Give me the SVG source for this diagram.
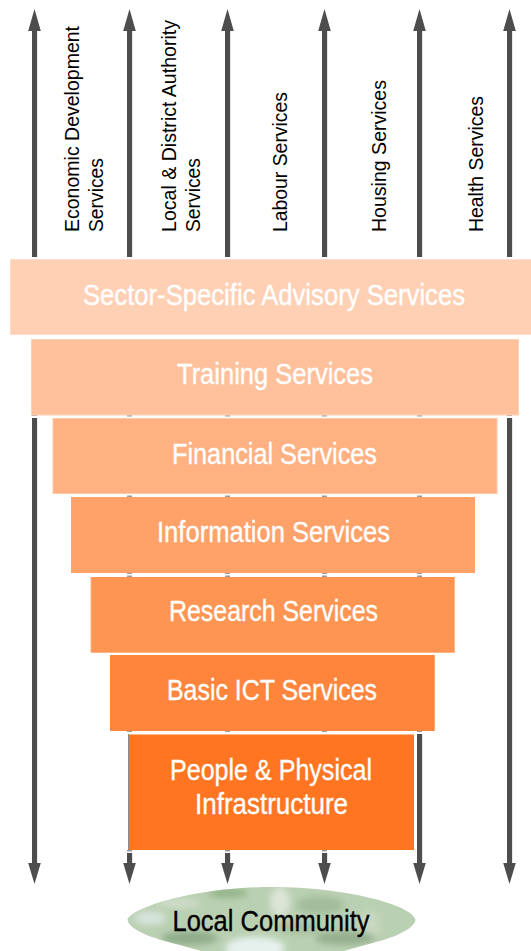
<svg xmlns="http://www.w3.org/2000/svg" width="531" height="951" viewBox="0 0 531 951">
<style>
.b{font-family:"Liberation Sans",Arial,sans-serif;font-size:29px;fill:#fff;text-anchor:middle;stroke:#fff;stroke-width:.35}
.v{font-family:"Liberation Sans",Arial,sans-serif;font-size:19.5px;fill:#000}
.a{stroke:#4d4d4d;stroke-width:5;fill:none}
.s{stroke:#e6e6e6;stroke-width:5;fill:none}
.t{stroke:#9a9a9a;stroke-width:5;fill:none}
.h{fill:#4d4d4d}
</style>
<defs>
<clipPath id="cl"><path d="M127.500 920C130 908 195 887 272 887C345 887 413 905 415.500 920C413 932 385 940 365 945L330 955H215L180 945C160 940 130 932 127.500 920Z"/></clipPath>
<filter id="bl" x="-50%" y="-50%" width="200%" height="200%"><feGaussianBlur stdDeviation="3"/></filter>
</defs>
<rect width="531" height="951" fill="#fff"/>
<g id="connectors">
<path class="s" d="M35.200 30V257M35.200 418V865M130.500 30V257M228.500 30V257M325.500 30V257M420.500 30V257M420.500 734V865M510.500 30V257M510.500 418V865M130.500 853V865M228.500 853V865M325.500 853V865"/>
<path class="a" d="M34.500 30V257M34.500 418V865M129.500 30V257M227.500 30V257M324.500 30V257M419.500 30V257M419.500 734V865M509.500 30V257M509.500 418V865M129.500 853V865M227.500 853V865M324.500 853V865"/>
<path class="t" d="M34.500 415V416M509.500 415V416M129.500 415V416.500M227.500 415V416.500M324.500 415V416.500M419.500 415V416.500M129.500 495.500V497M227.500 495.500V497M324.500 495.500V497M419.500 495.500V497M129.500 573V574M227.500 573V574M324.500 573V574M419.500 573V574M129.500 575.500V577M227.500 575.500V577M324.500 575.500V577M419.500 575.500V577M129.500 731V732M227.500 731V732M324.500 731V732M419.500 731V732M129.500 850V851.500M227.500 850V851.500M324.500 850V851.500"/>
<path class="h" d="M34.500 9l6.300 22h-12.600zM129.500 9l6.300 22h-12.600zM227.500 9l6.300 22h-12.600zM324.500 9l6.300 22h-12.600zM419.500 9l6.300 22h-12.600zM509.500 9l6.300 22h-12.600z"/>
<path class="h" d="M34.500 884l6.300-21h-12.600zM129.500 884l6.300-21h-12.600zM227.500 884l6.300-21h-12.600zM324.500 884l6.300-21h-12.600zM419.500 884l6.300-21h-12.600zM509.500 884l6.300-21h-12.600z"/>
<path d="M128.600 734V850" stroke="#8a8a8a" stroke-width="1.200" fill="none"/>
</g>
<g id="labels">
<text class="v" textLength="206" lengthAdjust="spacingAndGlyphs" transform="translate(78.500,232) rotate(-90)">Economic Development</text>
<text class="v" textLength="74" lengthAdjust="spacingAndGlyphs" transform="translate(102.500,232) rotate(-90)">Services</text>
<text class="v" textLength="212" lengthAdjust="spacingAndGlyphs" transform="translate(175.500,232) rotate(-90)">Local &amp; District Authority</text>
<text class="v" textLength="74" lengthAdjust="spacingAndGlyphs" transform="translate(200,232) rotate(-90)">Services</text>
<text class="v" textLength="140" lengthAdjust="spacingAndGlyphs" transform="translate(287,232) rotate(-90)">Labour Services</text>
<text class="v" textLength="152" lengthAdjust="spacingAndGlyphs" transform="translate(385.500,232) rotate(-90)">Housing Services</text>
<text class="v" textLength="136" lengthAdjust="spacingAndGlyphs" transform="translate(483,232) rotate(-90)">Health Services</text>
</g>
<g id="n1"><rect x="10.500" y="259.500" width="521" height="75" fill="#FFD0B4" stroke="#FFDCC8"/><text class="b" x="274" y="305" textLength="382" lengthAdjust="spacingAndGlyphs">Sector-Specific Advisory Services</text></g>
<g id="n2"><rect x="31.500" y="339.500" width="487" height="75.500" fill="#FFC19C" stroke="#FFD2B8"/><text class="b" x="275" y="384" textLength="196" lengthAdjust="spacingAndGlyphs">Training Services</text></g>
<g id="n3"><rect x="53" y="418.500" width="444" height="75" fill="#FFB182" stroke="#FFC8A8"/><text class="b" x="274.500" y="464" textLength="205" lengthAdjust="spacingAndGlyphs">Financial Services</text></g>
<g id="n4"><rect x="71" y="497" width="404" height="76" fill="#FFA26A"/><text class="b" x="273.500" y="542" textLength="233" lengthAdjust="spacingAndGlyphs">Information Services</text></g>
<g id="n5"><rect x="91" y="577" width="363.500" height="75.500" fill="#FF9552" stroke="#FFB488" stroke-dasharray="0 363.500 439"/><text class="b" x="273.500" y="621" textLength="209" lengthAdjust="spacingAndGlyphs">Research Services</text></g>
<g id="n6"><rect x="110" y="655" width="325" height="76" fill="#FF843C"/><path d="M434.500 655V731" stroke="#FFA874" fill="none"/><text class="b" x="272" y="700" textLength="210" lengthAdjust="spacingAndGlyphs">Basic ICT Services</text></g>
<g id="n7"><rect x="129" y="734.500" width="285" height="115.500" fill="#FF7522"/><text class="b" x="271" y="780" textLength="202" lengthAdjust="spacingAndGlyphs">People &amp; Physical</text><text class="b" x="271.500" y="814" textLength="153" lengthAdjust="spacingAndGlyphs">Infrastructure</text></g>
<g id="n8">
<g clip-path="url(#cl)">
<rect x="120" y="880" width="300" height="75" fill="#BAD0B2"/>
<g filter="url(#bl)">
<ellipse cx="150" cy="918" rx="16" ry="7" fill="#D6E4DC"/>
<ellipse cx="178" cy="903" rx="22" ry="5" fill="#CFDCC8"/>
<ellipse cx="228" cy="893" rx="20" ry="5" fill="#94B58A"/>
<ellipse cx="280" cy="902" rx="10" ry="15" fill="#DCE5D6"/>
<ellipse cx="320" cy="905" rx="24" ry="9" fill="#A3BD9A"/>
<ellipse cx="370" cy="925" rx="10" ry="14" fill="#C8D8C0"/>
<ellipse cx="190" cy="938" rx="28" ry="7" fill="#8FAD88"/>
<ellipse cx="345" cy="938" rx="30" ry="7" fill="#96B08E"/>
<ellipse cx="255" cy="948" rx="30" ry="11" fill="#E6F1EE"/>
<ellipse cx="300" cy="928" rx="22" ry="7" fill="#A8C2A2"/>
</g>
</g>
<text class="b" x="271" y="931" textLength="197" lengthAdjust="spacingAndGlyphs" style="fill:#000;stroke:#000">Local Community</text>
</g>
</svg>
